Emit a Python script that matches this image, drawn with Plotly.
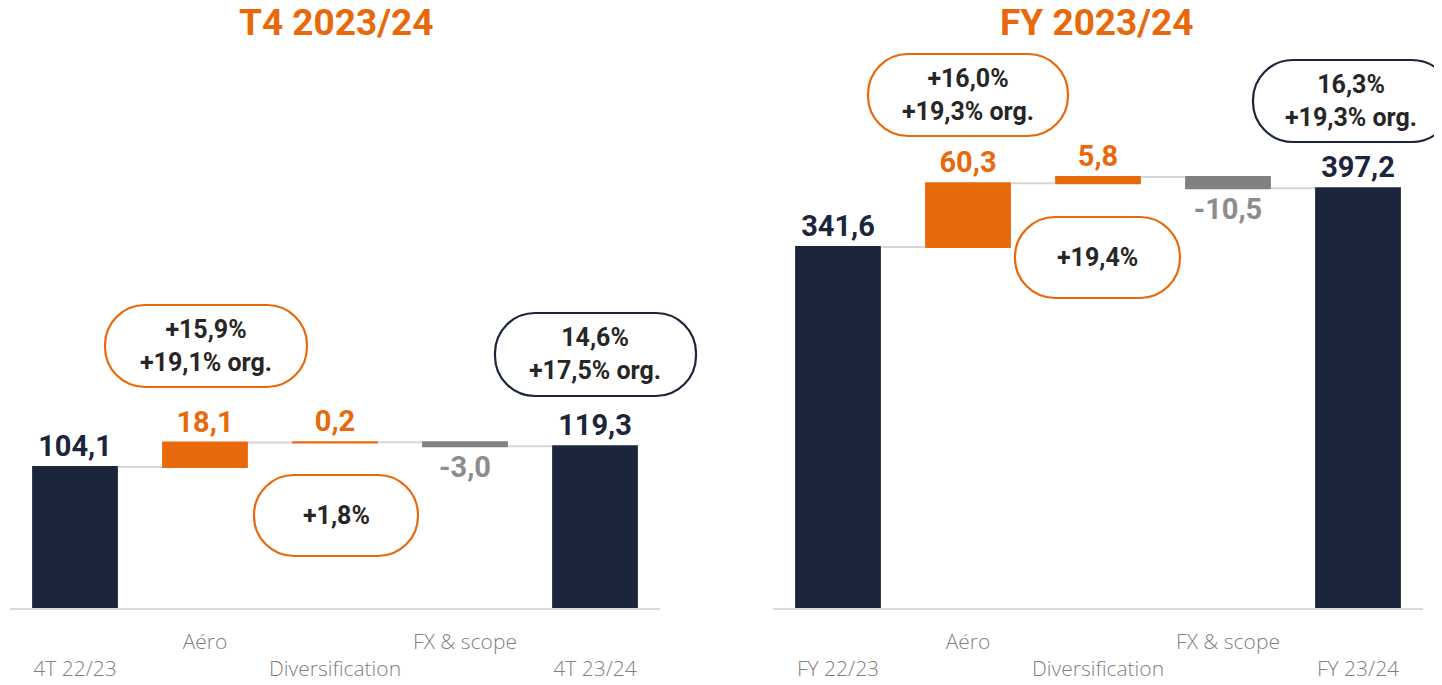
import plotly.graph_objects as go

# ---------------- data ----------------
categories_q4 = ["4T 22/23", "Aéro", "Diversification", "FX & scope", "4T 23/24"]
values_q4 = [104.1, 18.1, 0.2, -3.0, 119.3]
categories_fy = ["FY 22/23", "Aéro", "Diversification", "FX & scope", "FY 23/24"]
values_fy = [341.6, 60.3, 5.8, -10.5, 397.2]
measures = ["absolute", "relative", "relative", "relative", "total"]

titles = ["T4 2023/24", "FY 2023/24"]
callouts_q4 = ["+15,9%<br>+19,1% org.", "+1,8%", "14,6%<br>+17,5% org."]
callouts_fy = ["+16,0%<br>+19,3% org.", "+19,4%", "16,3%<br>+19,3% org."]

# ---------------- styles ----------------
PAGE_W, PAGE_H = 1442, 685
OFF = 8  # default page body margin
W, H = PAGE_W - OFF, PAGE_H - OFF
NAVY = "#1B253B"
ORANGE = "#E8690B"
GRAY = "#808080"
GRAY_TXT = "#8C8C8C"
CONN = "#D6D6D6"
TXT = "#262626"


def fmt(v):
    return f"{v:.1f}".replace(".", ",")


def label_colors(meas, vals):
    out = []
    for m, v in zip(meas, vals):
        if m in ("absolute", "total"):
            out.append(NAVY)
        elif v >= 0:
            out.append(ORANGE)
        else:
            out.append(GRAY_TXT)
    return out


def stagger(cats):
    return [c if i % 2 == 1 else "<br>" + c for i, c in enumerate(cats)]


def px_x(x):
    return (x - OFF) / W


def px_y(y):
    return (PAGE_H - y) / H


def pill(x0, y0, x1, y1, r=40):
    h = y1 - y0
    r = min(r, h / 2)
    k = 0.5523 * r

    def P(x, y):
        return f"{px_x(x):.5f},{px_y(y):.5f}"
    d = f"M {P(x0 + r, y0)} L {P(x1 - r, y0)} "
    d += f"C {P(x1 - r + k, y0)} {P(x1, y0 + r - k)} {P(x1, y0 + r)} "
    d += f"L {P(x1, y1 - r)} "
    d += f"C {P(x1, y1 - r + k)} {P(x1 - r + k, y1)} {P(x1 - r, y1)} "
    d += f"L {P(x0 + r, y1)} "
    d += f"C {P(x0 + r - k, y1)} {P(x0, y1 - r + k)} {P(x0, y1 - r)} "
    d += f"L {P(x0, y0 + r)} "
    d += f"C {P(x0, y0 + r - k)} {P(x0 + r - k, y0)} {P(x0 + r, y0)} Z"
    return d


fig = go.Figure()

for cats, vals, ax in [(categories_q4, values_q4, ""), (categories_fy, values_fy, "2")]:
    fig.add_trace(go.Waterfall(
        x=cats, y=vals, measure=measures,
        xaxis="x" + ax, yaxis="y" + ax,
        width=0.66,
        text=[fmt(v) for v in vals],
        textposition="outside",
        textfont=dict(family="Roboto", size=29, weight="bold", color=label_colors(measures, vals)),
        cliponaxis=False,
        constraintext="none",
        increasing=dict(marker=dict(color=ORANGE, line=dict(width=0))),
        decreasing=dict(marker=dict(color=GRAY, line=dict(width=0))),
        totals=dict(marker=dict(color=NAVY, line=dict(width=0))),
        connector=dict(line=dict(color=CONN, width=2)),
        showlegend=False,
        hoverinfo="skip",
    ))

y_dom = [px_y(608), px_y(40)]
axis_common = dict(
    showline=True, linecolor="#D9D9D9", linewidth=1.5,
    showgrid=False, zeroline=False, ticks="",
    tickfont=dict(family="Open Sans", size=21, color=GRAY, weight=300),
    ticklabelstandoff=14, tickmode="array",
)
fig.update_layout(
    width=W, height=H,
    margin=dict(l=0, r=0, t=0, b=0),
    paper_bgcolor="white", plot_bgcolor="white",
    xaxis=dict(domain=[px_x(10), px_x(660)], tickvals=categories_q4, ticktext=stagger(categories_q4), **axis_common),
    xaxis2=dict(domain=[px_x(773), px_x(1423)], anchor="y2", tickvals=categories_fy, ticktext=stagger(categories_fy), **axis_common),
    yaxis=dict(domain=y_dom, range=[0, 568 / 1.354], visible=False),
    yaxis2=dict(domain=y_dom, range=[0, 568 / 1.057], visible=False, anchor="x2"),
)

# titles
for t, cx in zip(titles, [336, 1097]):
    fig.add_annotation(x=px_x(cx), y=px_y(23), xref="paper", yref="paper", text=t, showarrow=False,
                       xanchor="center", yanchor="middle",
                       font=dict(family="Roboto", size=37, weight="bold", color=ORANGE))

# callout boxes (pixel geometry on the page)
boxes = [
    (callouts_q4[0], (105, 305, 307, 387), ORANGE, 206),
    (callouts_q4[1], (254, 475, 418, 556), ORANGE, 336),
    (callouts_q4[2], (495, 313, 696, 396), NAVY, 595),
    (callouts_fy[0], (868, 54, 1068, 136), ORANGE, 968),
    (callouts_fy[1], (1015, 217, 1180, 298), ORANGE, 1097),
    (callouts_fy[2], (1253, 60, 1452, 142), NAVY, 1351),
]
for text, (x0, y0, x1, y1), col, cx in boxes:
    fig.add_shape(type="path", path=pill(x0, y0, x1, y1), xref="paper", yref="paper",
                  line=dict(color=col, width=2.2), fillcolor="rgba(255,255,255,0)", layer="above")
    fig.add_annotation(x=px_x(cx), y=px_y((y0 + y1) / 2), xref="paper", yref="paper", text=text,
                       showarrow=False, xanchor="center", yanchor="middle",
                       font=dict(family="Roboto", size=25, weight="bold", color=TXT))

fig.write_html("out.html")
